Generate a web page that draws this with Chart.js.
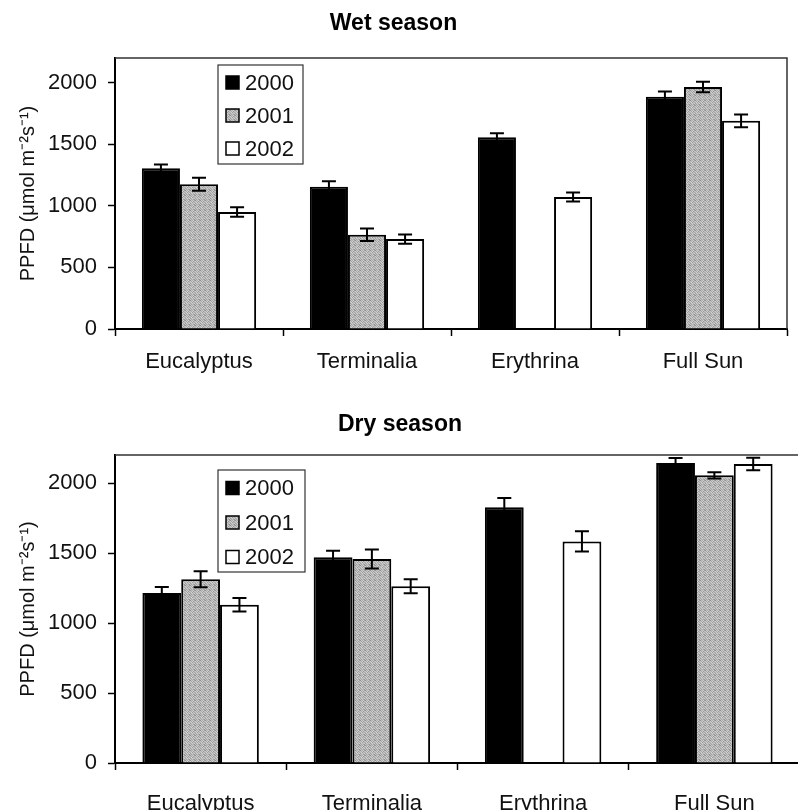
<!DOCTYPE html>
<html><head><meta charset="utf-8">
<script src="https://cdn.jsdelivr.net/npm/chart.js@4.4.1/dist/chart.umd.min.js"></script>
<style>
html,body{margin:0;padding:0;background:#fff;overflow:hidden;width:798px;height:810px;}
#c1{position:absolute;left:0;top:0;}
#c2{position:absolute;left:0;top:400px;}
</style></head><body>
<canvas id="c1" width="798" height="400" style="width:798px;height:400px"></canvas>
<canvas id="c2" width="802" height="410" style="width:802px;height:410px"></canvas>
<script>
const categories = ['Eucalyptus', 'Terminalia', 'Erythrina', 'Full Sun'];
const years = ['2000', '2001', '2002'];
const yTicks = [0, 500, 1000, 1500, 2000];

const wet2000 = [1305, 1155, 1557, 1885];
const wet2001 = [1175, 765, null, 1965];
const wet2002 = [950, 730, 1072, 1690];
const wetErr2000 = [30, 45, 33, 43];
const wetErr2001 = [52, 50, null, 43];
const wetErr2002 = [38, 38, 37, 52];

const dry2000 = [1214, 1469, 1826, 2143];
const dry2001 = [1312, 1457, null, 2055];
const dry2002 = [1131, 1262, 1583, 2136];
const dryErr2000 = [43, 47, 67, 36];
const dryErr2001 = [57, 68, null, 22];
const dryErr2002 = [48, 50, 72, 45];

const FONT = "'Liberation Sans', Arial, Helvetica, sans-serif";
Chart.defaults.font.family = FONT;
Chart.defaults.color = '#111';

// deterministic stipple pattern for the grey series
function makeGrey() {
  const c = document.createElement('canvas');
  c.width = 5; c.height = 5;
  const x = c.getContext('2d');
  const shades = ['#8e8e8e','#c4c4c4','#b0b0b0','#d0d0d0','#a2a2a2',
                  '#cacaca','#a6a6a6','#d2d2d2','#969696','#bcbcbc',
                  '#b4b4b4','#d4d4d4','#9a9a9a','#c6c6c6','#acacac',
                  '#9c9c9c','#bebebe','#cccccc','#b2b2b2','#d0d0d0',
                  '#c8c8c8','#a4a4a4','#c0c0c0','#aaaaaa','#929292'];
  shades.forEach((s, i) => { x.fillStyle = s; x.fillRect(i % 5, Math.floor(i / 5), 1, 1); });
  return x.createPattern(c, 'repeat');
}
const GREY = makeGrey();
const FILLS = ['#000000', GREY, '#ffffff'];

const errorBars = {
  id: 'errorBars',
  afterDatasetsDraw(chart) {
    const ctx = chart.ctx;
    const ys = chart.scales.y;
    ctx.save();
    ctx.lineWidth = 2;
    ctx.strokeStyle = '#000';
    chart.data.datasets.forEach((ds, di) => {
      const meta = chart.getDatasetMeta(di);
      meta.data.forEach((bar, i) => {
        const v = ds.data[i], e = ds.errors[i];
        if (v == null || e == null) return;
        const yt = ys.getPixelForValue(v + e);
        const yb = ys.getPixelForValue(v - e);
        const x = bar.x, hw = 7;
        ctx.beginPath();
        ctx.moveTo(x, yt); ctx.lineTo(x, yb);
        ctx.moveTo(x - hw, yt); ctx.lineTo(x + hw, yt);
        ctx.moveTo(x - hw, yb); ctx.lineTo(x + hw, yb);
        ctx.stroke();
      });
    });
    ctx.restore();
  }
};

const frame = {
  id: 'frame',
  afterDraw(chart) {
    const a = chart.chartArea, ctx = chart.ctx;
    ctx.save();
    ctx.strokeStyle = '#333';
    ctx.lineWidth = 1.5;
    ctx.beginPath();
    ctx.moveTo(a.left, a.top); ctx.lineTo(a.right, a.top); ctx.lineTo(a.right, a.bottom);
    ctx.stroke();
    ctx.restore();
  }
};

const boxLegend = {
  id: 'boxLegend',
  afterDraw(chart, args, o) {
    const a = chart.chartArea, ctx = chart.ctx;
    const bx = a.left + o.dx, by = a.top + o.dy;
    ctx.save();
    ctx.fillStyle = '#fff';
    ctx.fillRect(bx, by, o.w, o.h);
    ctx.strokeStyle = '#333';
    ctx.lineWidth = 1.2;
    ctx.strokeRect(bx, by, o.w, o.h);
    ctx.font = '22px ' + FONT;
    ctx.textBaseline = 'middle';
    ctx.textAlign = 'left';
    chart.data.datasets.forEach((ds, i) => {
      const cy = by + o.first + i * o.gap;
      ctx.fillStyle = ds.backgroundColor;
      ctx.fillRect(bx + 8, cy - 6.5, 13, 13);
      ctx.strokeStyle = '#000';
      ctx.lineWidth = 1.5;
      ctx.strokeRect(bx + 8, cy - 6.5, 13, 13);
      ctx.fillStyle = '#111';
      ctx.fillText(ds.label, bx + 27, cy + 1);
    });
    ctx.restore();
  }
};

function makeChart(id, title, series, errs, L) {
  return new Chart(document.getElementById(id), {
    type: 'bar',
    data: {
      labels: categories,
      datasets: years.map((yr, i) => ({
        label: yr,
        data: series[i],
        errors: errs[i],
        backgroundColor: FILLS[i],
        borderColor: '#000',
        borderWidth: 2,
        categoryPercentage: 0.68,
        barPercentage: 1.0
      }))
    },
    options: {
      responsive: false,
      animation: false,
      layout: { padding: { left: 0, right: L.padRight, top: 0, bottom: 0 } },
      plugins: {
        legend: { display: false },
        tooltip: { enabled: false },
        title: {
          display: true, text: title, color: '#000',
          font: { size: 23, weight: 'bold' },
          padding: { top: L.titleTop, bottom: L.titleBottom }
        },
        boxLegend: L.legend
      },
      scales: {
        x: {
          grid: { display: true, drawOnChartArea: false, drawTicks: true, tickLength: 7, tickColor: '#000', tickWidth: 1.5, offset: true },
          border: { display: true, color: '#000', width: 2 },
          ticks: { font: { size: 22 }, color: '#111', padding: L.xPad, maxRotation: 0 },
          afterFit: s => { s.height = L.xHeight; }
        },
        y: {
          min: 0, max: 2200,
          grid: { display: true, drawOnChartArea: false, drawTicks: true, tickLength: 7, tickColor: '#000', tickWidth: 1.5 },
          border: { display: true, color: '#000', width: 2 },
          ticks: { font: { size: 22 }, color: '#111', padding: 11, callback: v => String(v) },
          afterBuildTicks: s => { s.ticks = yTicks.map(v => ({ value: v })); },
          title: {
            display: true, text: 'PPFD (\u03bcmol m\u207b\u00b2s\u207b\u00b9)',
            font: { size: 20 }, color: '#111', padding: { top: 16, bottom: 0 }
          },
          afterFit: s => { s.width = 115; }
        }
      }
    },
    plugins: [errorBars, frame, boxLegend]
  });
}

makeChart('c1', 'Wet season',
  [wet2000, wet2001, wet2002], [wetErr2000, wetErr2001, wetErr2002],
  { padRight: 11, titleTop: 10, titleBottom: 20.4, xHeight: 71, xPad: 13,
    legend: { dx: 103, dy: 7, w: 85, h: 99, first: 17.5, gap: 33 } });

makeChart('c2', 'Dry season',
  [dry2000, dry2001, dry2002], [dryErr2000, dryErr2001, dryErr2002],
  { padRight: 2, titleTop: 11, titleBottom: 16.4, xHeight: 47, xPad: 21,
    legend: { dx: 103, dy: 15, w: 87, h: 102, first: 18, gap: 34.5 } });
</script>
</body></html>
